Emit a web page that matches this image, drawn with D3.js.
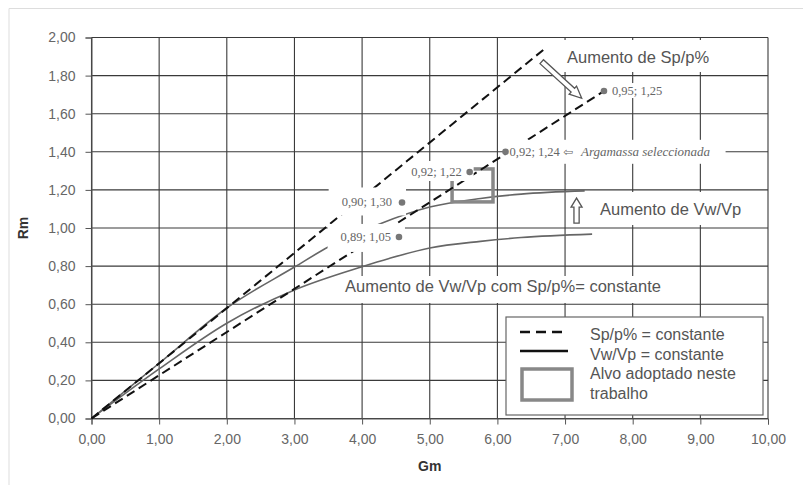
<!DOCTYPE html>
<html>
<head>
<meta charset="utf-8">
<script src="https://cdn.jsdelivr.net/npm/d3@7"></script>
<style>
body{margin:0;background:#fff}
svg{display:block}
</style>
</head>
<body>
<div id="chart"></div>
<script>
// axis ticks
const gmTicks = [0,1,2,3,4,5,6,7,8,9,10];
const rmTicks = [0,0.2,0.4,0.6,0.8,1.0,1.2,1.4,1.6,1.8,2.0];

// Sp/p% = constante (dashed)
const spAGm = [0, 6.73];
const spARm = [0, 1.95];
const spBGm = [0, 7.58];
const spBRm = [0, 1.72];

// Vw/Vp = constante (solid)
const upperGm = [0, 1, 2, 3, 3.5, 4.25, 5, 5.75, 6.35, 7.29];
const upperRm = [0, 0.29, 0.58, 0.795, 0.90, 1.02, 1.11, 1.155, 1.178, 1.195];
const lowerGm = [0, 1, 2, 3, 4, 4.4, 5, 5.75, 6.35, 7.4];
const lowerRm = [0, 0.26, 0.50, 0.675, 0.797, 0.84, 0.895, 0.93, 0.95, 0.968];

// labelled points
const pointGm = [7.575, 6.12, 5.59, 4.59, 4.545];
const pointRm = [1.719, 1.40, 1.294, 1.134, 0.953];
const pointLabels = ["0,95; 1,25", "0,92; 1,24", "0,92; 1,22", "0,90; 1,30", "0,89; 1,05"];

// target zone
const targetGm = [5.33, 5.935];
const targetRm = [1.137, 1.31];

const W = 803, H = 485;
const svg = d3.select("#chart").append("svg").attr("width", W).attr("height", H);

const x = d3.scaleLinear().domain([0,10]).range([91.5,768]);
const y = d3.scaleLinear().domain([0,2]).range([418.5,37.5]);
const fmt = d => d3.format(".2f")(d).replace(".", ",");
const SANS = "'Liberation Sans', Arial, sans-serif";
const SERIF = "'Liberation Serif', 'Times New Roman', serif";

// faint outer frame
svg.append("path").attr("d", "M9,485V8.5H803").attr("fill","none").attr("stroke","#ddd");

// grid
const grid = svg.append("g");
grid.selectAll(".vg").data(gmTicks).enter().append("line")
	.attr("x1", d=>x(d)).attr("x2", d=>x(d)).attr("y1", y(0)).attr("y2", y(2))
	.attr("stroke", "#3a3a3a").attr("stroke-width", 1.1);
grid.selectAll(".hg").data(rmTicks).enter().append("line")
	.attr("x1", x(0)).attr("x2", x(10)).attr("y1", d=>y(d)).attr("y2", d=>y(d))
	.attr("stroke", "#3a3a3a").attr("stroke-width", 1.1);

// axes
const gx = svg.append("g").attr("transform", `translate(0,${y(0)})`)
	.call(d3.axisBottom(x).tickValues(gmTicks).tickFormat(fmt).tickSize(6).tickPadding(10));
const gy = svg.append("g").attr("transform", `translate(${x(0)},0)`)
	.call(d3.axisLeft(y).tickValues(rmTicks).tickFormat(fmt).tickSize(6).tickPadding(10));
[gx, gy].forEach(g => {
	g.select(".domain").attr("stroke", "#555");
	g.selectAll(".tick line").attr("stroke", "#555");
	g.selectAll(".tick text").attr("fill", "#666").style("font-family", SANS).style("font-size", "14px");
});

svg.append("text").attr("transform", `translate(28,${y(1)}) rotate(-90)`)
	.attr("text-anchor","middle").style("font-family",SANS).style("font-size","14px")
	.style("font-weight","bold").attr("fill","#333").text("Rm");
svg.append("text").attr("x", x(5)).attr("y", 471)
	.attr("text-anchor","middle").style("font-family",SANS).style("font-size","14px")
	.style("font-weight","bold").attr("fill","#333").text("Gm");

const line = d3.line().x(d=>x(d[0])).y(d=>y(d[1]));
const curve = d3.line().x(d=>x(d[0])).y(d=>y(d[1])).curve(d3.curveMonotoneX);

// solid curves
const solids = svg.append("g");
[[upperGm, upperRm], [lowerGm, lowerRm]].forEach(([g, r]) => {
	solids.append("path").datum(g.map((v,i)=>[v, r[i]]))
		.attr("d", curve).attr("fill","none").attr("stroke","#666").attr("stroke-width",1.6);
});

// target rectangle
svg.append("rect")
	.attr("x", x(targetGm[0])).attr("y", y(targetRm[1]))
	.attr("width", x(targetGm[1]) - x(targetGm[0])).attr("height", y(targetRm[0]) - y(targetRm[1]))
	.attr("fill","none").attr("stroke","#888").attr("stroke-width",3.5);

// dashed lines
const dashed = svg.append("g");
[[spAGm, spARm], [spBGm, spBRm]].forEach(([g, r]) => {
	dashed.append("path").datum(g.map((v,i)=>[v, r[i]]))
		.attr("d", line).attr("fill","none").attr("stroke","#111")
		.attr("stroke-width",2).attr("stroke-dasharray","9,5");
});

const boxes = svg.append("g");
const marks = svg.append("g");

// white backing box for a text node
function backBox(node, pl, pr, pt, pb){
	const b = node.getBBox();
	boxes.append("rect").attr("x", b.x - pl).attr("y", b.y - pt)
		.attr("width", b.width + pl + pr).attr("height", b.height + pt + pb).attr("fill","#fff");
}

// annotations
function annot(txt, px, py, box){
	const t = marks.append("text").attr("x", px).attr("y", py)
		.style("font-family",SANS).style("font-size","16.5px").attr("fill","#555").text(txt);
	backBox(t.node(), ...box);
}
annot("Aumento de Sp/p%", 567, 63, [15, 55, 8, 6]);
annot("Aumento de Vw/Vp", 600, 215, [18, 10, 8, 7]);
annot("Aumento de Vw/Vp com Sp/p%= constante", 345, 292, [5, 5, 1, 8]);

// points and labels
const side = [1, 1, -1, -1, -1];
const dxs = [8, 4, -8, -10, -8];
const boxPads = [[2,3,1,0],[3,15,4,5],[3,12,4,2],[13,14,8,6],[13,14,6,8]];
pointGm.forEach((g, i) => {
	const cx = x(g), cy = y(pointRm[i]);
	const t = marks.append("text").attr("x", cx + dxs[i]).attr("y", cy + 4)
		.attr("text-anchor", side[i] > 0 ? "start" : "end")
		.style("font-family", SERIF).style("font-size","12.5px").attr("fill","#666");
	t.append("tspan").text(pointLabels[i]);
	if (i === 1) {
		t.append("tspan").attr("dx", 3).style("font-family","'DejaVu Sans', sans-serif").style("font-size","12px").text("\u21E6");
		t.append("tspan").attr("dx", 8).style("font-style","italic").style("font-size","13px").text("Argamassa seleccionada");
	}
	backBox(t.node(), ...boxPads[i]);
	marks.append("circle").attr("cx", cx).attr("cy", cy).attr("r", 3.3).attr("fill","#777");
});

// hollow arrows
function arrow(x1, y1, x2, y2, sw, hw, hl){
	const dx = x2-x1, dy = y2-y1, L = Math.hypot(dx,dy);
	const ux = dx/L, uy = dy/L, nx = -uy, ny = ux;
	const bx = x2 - ux*hl, by = y2 - uy*hl;
	const pts = [
		[x1+nx*sw, y1+ny*sw], [bx+nx*sw, by+ny*sw], [bx+nx*hw, by+ny*hw], [x2, y2],
		[bx-nx*hw, by-ny*hw], [bx-nx*sw, by-ny*sw], [x1-nx*sw, y1-ny*sw]
	];
	marks.append("path").attr("d", "M" + pts.map(p=>p.join(",")).join("L") + "Z")
		.attr("fill","#fff").attr("stroke","#555").attr("stroke-width",1.3);
}
arrow(x(6.655), y(1.873), x(7.246), y(1.681), 2.6, 5.5, 12);
arrow(x(7.17), y(1.026), x(7.17), y(1.157), 2.6, 5.5, 9);

// legend
const lg = svg.append("g").attr("transform","translate(506,317)");
lg.append("rect").attr("width",257).attr("height",98).attr("fill","#fff").attr("stroke","#666").attr("stroke-width",1.2);
lg.append("line").attr("x1",14).attr("x2",58).attr("y1",15).attr("y2",15)
	.attr("stroke","#111").attr("stroke-width",2.5).attr("stroke-dasharray","10,6");
lg.append("line").attr("x1",14).attr("x2",62).attr("y1",34).attr("y2",34)
	.attr("stroke","#111").attr("stroke-width",2.5);
lg.append("rect").attr("x",16).attr("y",52).attr("width",50).attr("height",31)
	.attr("fill","none").attr("stroke","#888").attr("stroke-width",3.5);
["Sp/p% = constante","Vw/Vp = constante","Alvo adoptado neste","trabalho"].forEach((s,i)=>{
	lg.append("text").attr("x",84).attr("y",23 + i*19.5)
		.style("font-family",SANS).style("font-size","16px").attr("fill","#555").text(s);
});
</script>
</body>
</html>
